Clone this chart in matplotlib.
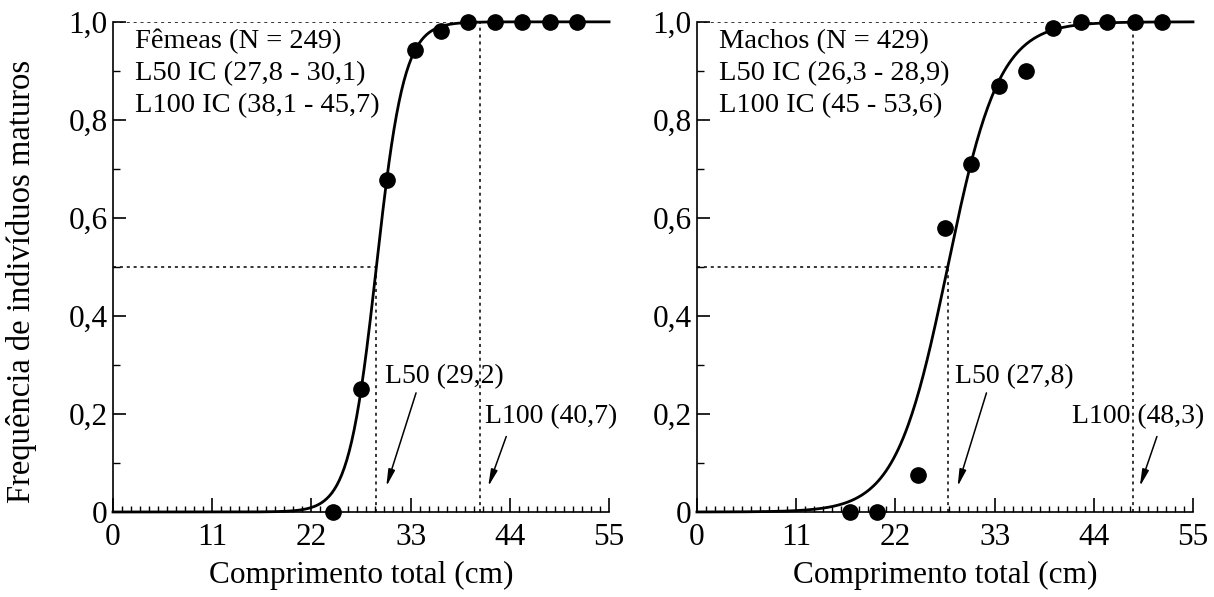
import numpy as np
import matplotlib.pyplot as plt
from matplotlib.ticker import MultipleLocator, FixedLocator

plt.rcParams['font.family'] = ['Liberation Serif', 'DejaVu Serif']

# Females
fem_x = [24.4, 27.5, 30.4, 33.5, 36.4, 39.4, 42.4, 45.4, 48.4, 51.4]
fem_y = [0.0, 0.25, 0.678, 0.943, 0.982, 1.0, 1.0, 1.0, 1.0, 1.0]
fem_l50, fem_l100, fem_r = 29.2, 40.7, 0.65
fem_lines = ['Fêmeas (N = 249)', 'L50 IC (27,8 - 30,1)', 'L100 IC (38,1 - 45,7)']

# Males
mac_x = [17.0, 20.0, 24.5, 27.5, 30.4, 33.5, 36.5, 39.5, 42.6, 45.5, 48.6, 51.6]
mac_y = [0.0, 0.0, 0.075, 0.58, 0.71, 0.87, 0.899, 0.987, 1.0, 1.0, 1.0, 1.0]
mac_l50, mac_l100, mac_r = 27.8, 48.3, 0.35
mac_lines = ['Machos (N = 429)', 'L50 IC (26,3 - 28,9)', 'L100 IC (45 - 53,6)']

xticks = [0, 11, 22, 33, 44, 55]
yticks = [0, 0.2, 0.4, 0.6, 0.8, 1.0]
ylabels = ['0', '0,2', '0,4', '0,6', '0,8', '1,0']

fig = plt.figure(figsize=(12.14, 5.97), dpi=100)
ax1 = fig.add_axes([0.0931, 0.1424, 0.4086, 0.821])
ax2 = fig.add_axes([0.5741, 0.1424, 0.4086, 0.821])


def panel(ax, xs, ys, l50, l100, r, lines, l50_txt, l100_txt, a50, a100):
    xc = np.linspace(0, 55, 400)
    yc = 1 / (1 + np.exp(-r * (xc - l50)))
    ax.plot(xc, yc, color='black', lw=2, clip_on=False, zorder=3)
    ax.plot(xs, ys, 'o', color='black', ms=11, clip_on=False, zorder=4)
    dash = dict(color='black', lw=1.1, dashes=(2, 2.5))
    ax.plot([0, l50], [0.5, 0.5], **dash)
    ax.plot([l50, l50], [0, 0.5], **dash)
    ax.plot([0, l100], [1, 1], **dash)
    ax.plot([l100, l100], [0, 1], **dash)
    for i, line in enumerate(lines):
        ax.text(2.4, 0.947 - i * 0.0655, line, fontsize=20.5, va='baseline', ha='left')
    ap = dict(arrowstyle='-|>,head_length=1.0,head_width=0.2', color='black', lw=1.1,
              shrinkA=0, shrinkB=0)
    ax.text(l50_txt[0], l50_txt[1], l50_txt[2], fontsize=20, va='baseline', ha='left')
    ax.annotate('', xy=a50[1], xytext=a50[0], arrowprops=ap)
    ax.text(l100_txt[0], l100_txt[1], l100_txt[2], fontsize=20, va='baseline', ha='left')
    ax.annotate('', xy=a100[1], xytext=a100[0], arrowprops=ap)

    ax.set_xlim(0, 55)
    ax.set_ylim(0, 1)
    ax.spines['top'].set_visible(False)
    ax.spines['right'].set_visible(False)
    ax.xaxis.set_major_locator(FixedLocator(xticks))
    ax.xaxis.set_minor_locator(MultipleLocator(1))
    ax.yaxis.set_major_locator(FixedLocator(yticks))
    ax.yaxis.set_minor_locator(MultipleLocator(0.1))
    ax.set_yticklabels(ylabels)
    ax.tick_params(which='major', direction='in', length=10, width=1.2, labelsize=22.5)
    ax.tick_params(which='minor', direction='in', length=4.5, width=1.0)
    ax.tick_params(axis='x', which='major', pad=8)
    ax.tick_params(axis='y', which='major', length=9, pad=4)
    ax.tick_params(axis='y', which='minor', length=5)
    for s in ('left', 'bottom'):
        ax.spines[s].set_linewidth(1.2)
    ax.set_xlabel('Comprimento total (cm)', fontsize=22.5, labelpad=6)


panel(ax1, fem_x, fem_y, fem_l50, fem_l100, fem_r, fem_lines,
      (30.2, 0.263, 'L50 (29,2)'), (41.2, 0.182, 'L100 (40,7)'),
      ((33.6, 0.243), (30.3, 0.052)), ((43.6, 0.154), (41.6, 0.052)))
panel(ax2, mac_x, mac_y, mac_l50, mac_l100, mac_r, mac_lines,
      (28.6, 0.263, 'L50 (27,8)'), (41.6, 0.182, 'L100 (48,3)'),
      ((32.1, 0.243), (28.9, 0.052)), ((51.0, 0.154), (49.1, 0.052)))

fig.text(22 / 1214, 0.528, 'Frequência de indivíduos maturos', fontsize=23.5,
         rotation=90, ha='center', va='center')

fig.savefig('out.png', dpi=100)
